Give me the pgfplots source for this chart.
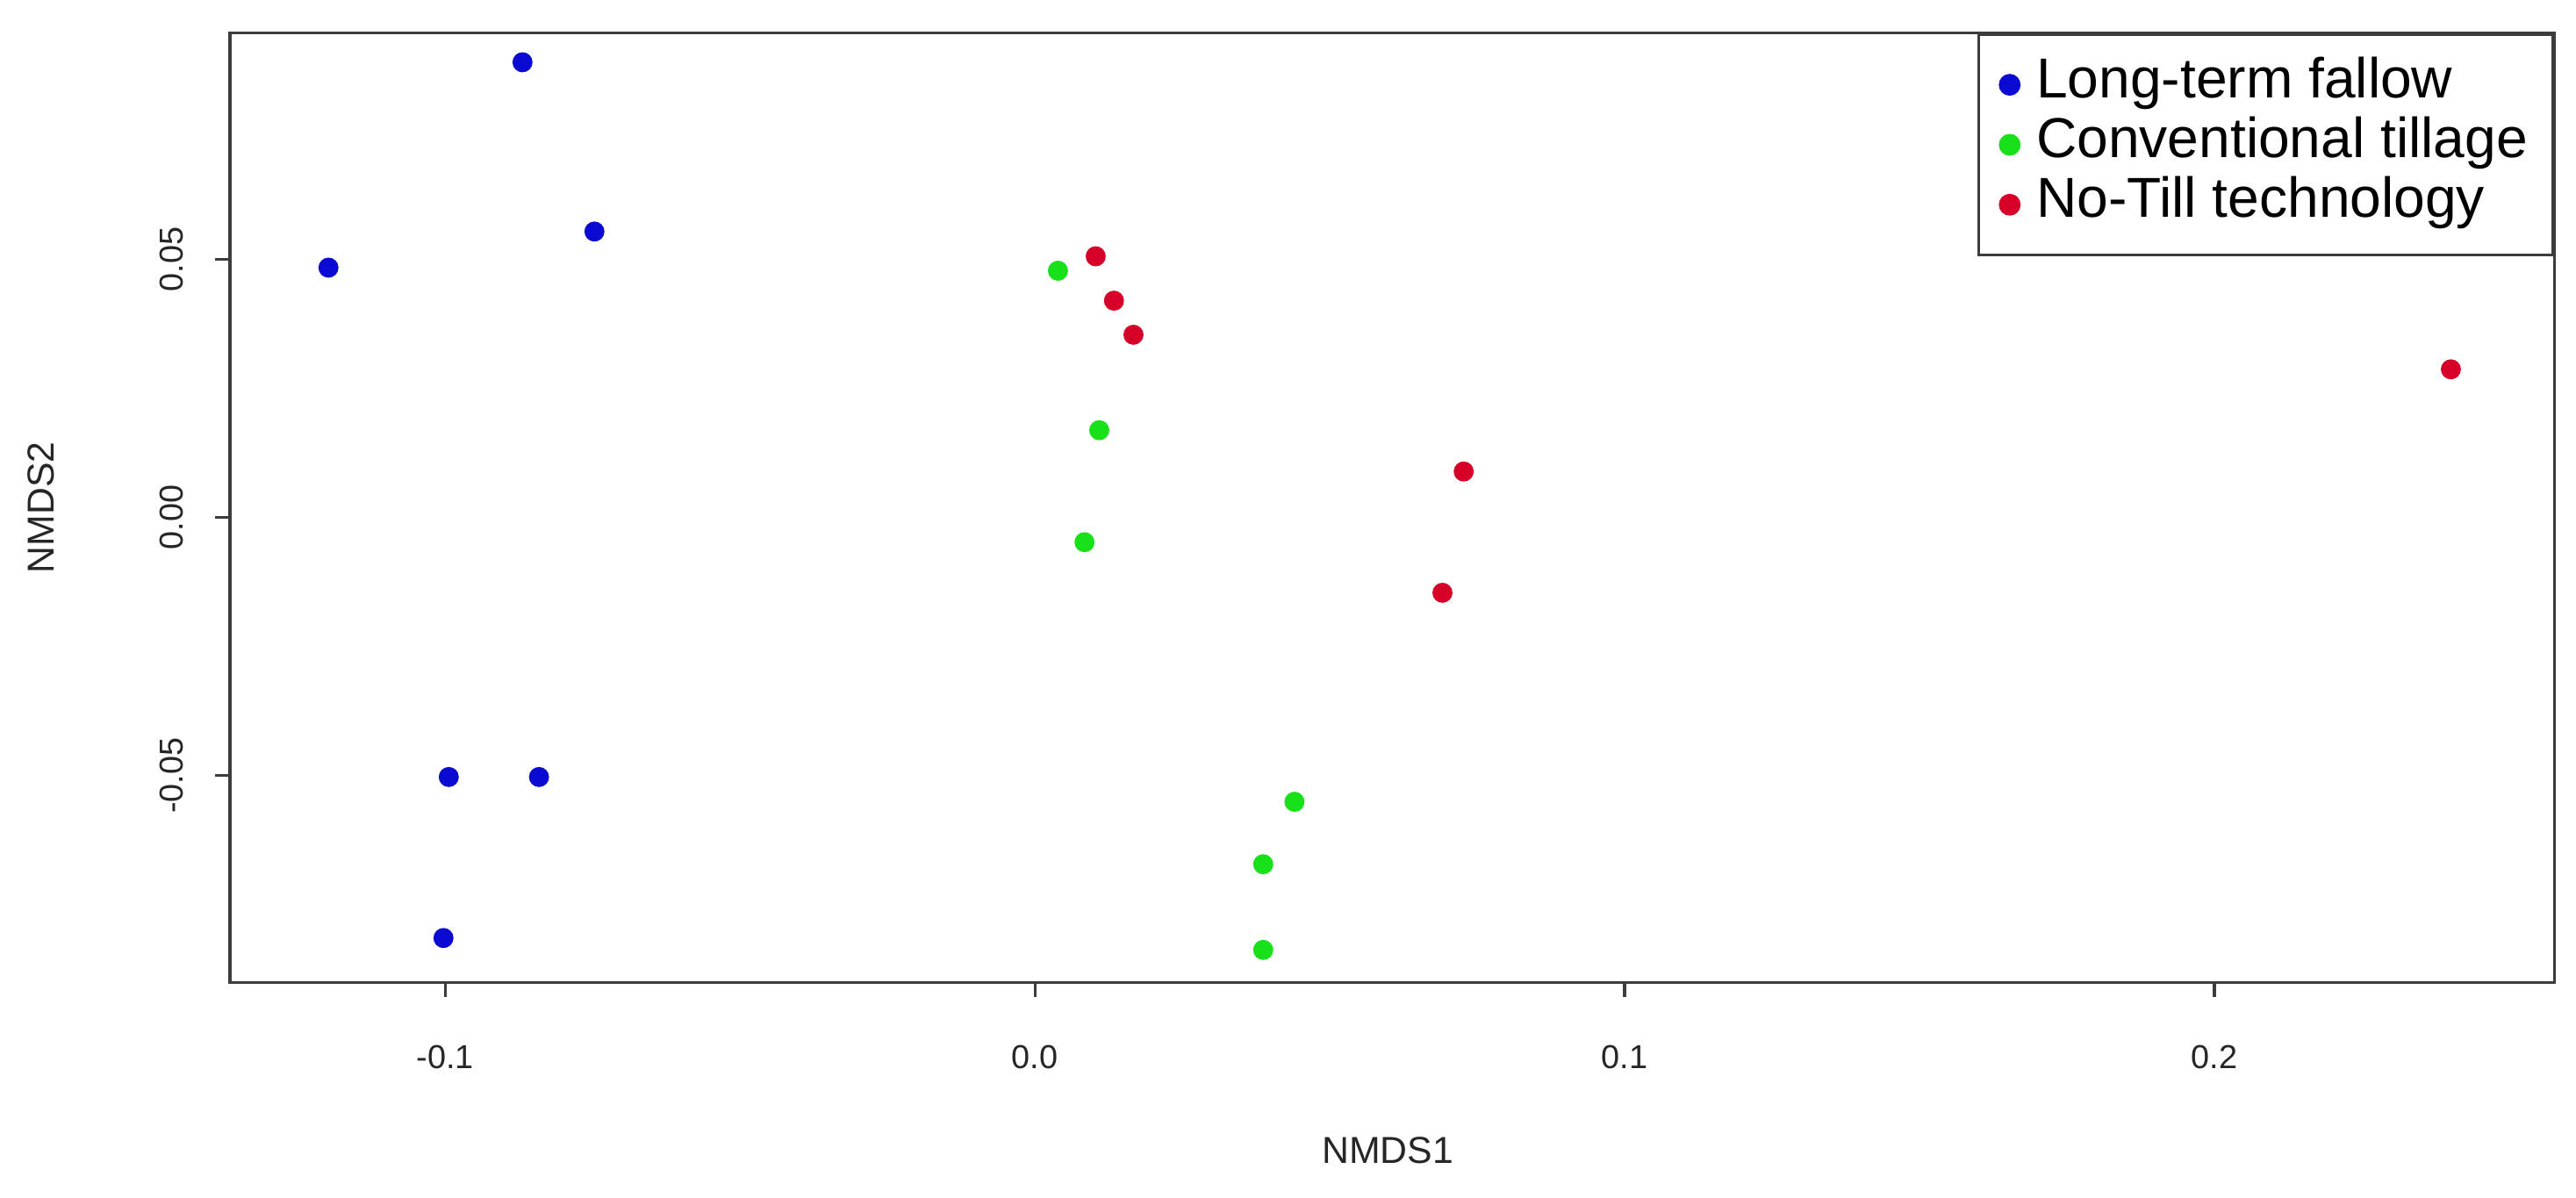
\documentclass[border=0pt]{standalone}
\usepackage{fontspec}
\setmainfont{Liberation Sans}
\usepackage{pgfplots}
\pgfplotsset{compat=1.18}
\usetikzlibrary{calc}
\definecolor{ltf}{RGB}{10,10,210}
\definecolor{convt}{RGB}{25,225,25}
\definecolor{notill}{RGB}{215,0,40}
\definecolor{frame}{RGB}{60,60,60}

\begin{document}
\begin{tikzpicture}
\begin{axis}[
    name=ax,
    scale only axis,
    width=283mm, height=115.6mm,
    xmin=-0.1365, xmax=0.2577,
    ymin=-0.0901, ymax=0.0939,
    scaled x ticks=false, scaled y ticks=false,
    xtick={-0.1,0,0.1,0.2},
    xticklabels={-0.1,0.0,0.1,0.2},
    ytick={-0.05,0,0.05},
    yticklabels={-0.05,0.00,0.05},
    tick align=outside,
    xtick pos=bottom, ytick pos=left,
    major tick length=1.8mm,
    tick style={frame, line width=0.35mm},
    axis line style={frame, line width=0.35mm},
    ticklabel style={font=\fontsize{11.5}{13}\selectfont, text=black!85},
    xticklabel style={yshift=-4.6mm},
    yticklabel style={xshift=-2.6mm, rotate=90, anchor=south},
    xlabel={NMDS1}, ylabel={NMDS2},
    label style={font=\fontsize{13}{15}\selectfont, text=black!85},
    xlabel style={at={(axis description cs:0.498,-0.1765)}, anchor=center},
    ylabel style={at={(axis description cs:-0.0813,0.5)}, anchor=center},
    legend style={
        at={(1,1)}, anchor=north east,
        draw=frame, line width=0.35mm,
        font=\fontsize{19.5}{22}\selectfont,
        inner xsep=2.6mm, inner ysep=2.5mm,
        row sep=0pt,
        nodes={inner sep=0.5mm, text height=4.7mm, text depth=1.6mm},
        /tikz/every odd column/.style={column sep=1.6mm},
    },
    legend cell align=left,
]
% Long-term fallow
\addplot[only marks, mark=*, mark size=1.15mm, color=ltf] coordinates {
    (-0.0869,0.0882) (-0.1198,0.0484) (-0.0747,0.0554)
    (-0.0994,-0.0503) (-0.0841,-0.0503) (-0.1003,-0.0815)
};
\addlegendentry{Long-term fallow}
% Conventional tillage
\addplot[only marks, mark=*, mark size=1.15mm, color=convt] coordinates {
    (0.0039,0.0478) (0.0109,0.0169) (0.0084,-0.0048)
    (0.0440,-0.0551) (0.0387,-0.0672) (0.0387,-0.0838)
};
\addlegendentry{Conventional tillage}
% No-Till technology
\addplot[only marks, mark=*, mark size=1.15mm, color=notill] coordinates {
    (0.0103,0.0506) (0.0134,0.0420) (0.0167,0.0354)
    (0.2401,0.0287) (0.0727,0.0089) (0.0691,-0.0146)
};
\addlegendentry{No-Till technology}
\end{axis}
\pgfresetboundingbox
\path[use as bounding box] ($(ax.south west)+(-28mm,-26.2mm)$) rectangle ($(ax.north east)+(2.6mm,4mm)$);
\end{tikzpicture}
\end{document}
